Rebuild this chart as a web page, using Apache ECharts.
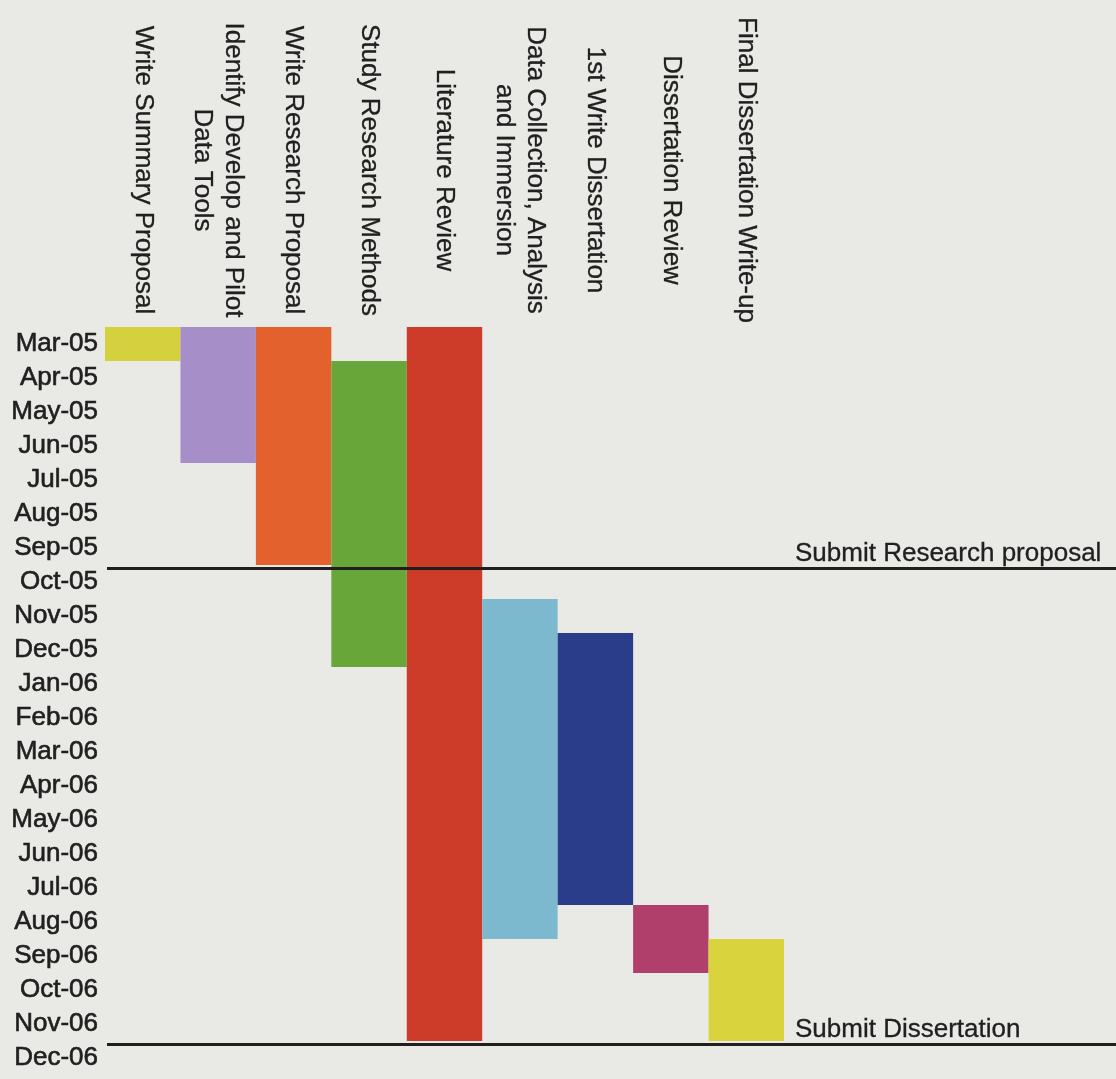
<!DOCTYPE html>
<html>
<head>
<meta charset="utf-8">
<style>
html, body { margin: 0; padding: 0; background: #e9e9e6; }
#chart { width: 1116px; height: 1079px; }
</style>
<script src="https://cdn.jsdelivr.net/npm/echarts@6/dist/echarts.min.js"></script>
</head>
<body>
<div id="chart"></div>
<script>
// ---- data ----
const tasks = [
  'Write Summary Proposal',
  'Identify Develop and Pilot\nData Tools',
  'Write Research Proposal',
  'Study Research Methods',
  'Literature Review',
  'Data Collection, Analysis\nand Immersion',
  '1st Write Dissertation',
  'Dissertation Review',
  'Final Dissertation Write-up'
];
const months = [
  'Mar-05','Apr-05','May-05','Jun-05','Jul-05','Aug-05','Sep-05','Oct-05','Nov-05','Dec-05',
  'Jan-06','Feb-06','Mar-06','Apr-06','May-06','Jun-06','Jul-06','Aug-06','Sep-06','Oct-06','Nov-06','Dec-06'
];
const startMonth = ['Mar-05','Mar-05','Mar-05','Apr-05','Mar-05','Nov-05','Dec-05','Aug-06','Sep-06'];
const endMonth   = ['Mar-05','Jun-05','Sep-05','Dec-05','Nov-06','Aug-06','Jul-06','Sep-06','Nov-06'];
const milestones = ['Submit Research proposal', 'Submit Dissertation'];
const milestoneAfter = ['Sep-05', 'Nov-06'];

// ---- styles ----
const colors = ['#d5d03e','#a68ec9','#e2612c','#69a63a','#cd3c29','#7db9ce','#293d8b','#b13f6c','#d9d43e'];
const FONT = '"Liberation Sans", Arial, sans-serif';
const TEXT = '#202020';

const barData = tasks.map((t, i) => [i, months.indexOf(startMonth[i]), months.indexOf(endMonth[i])]);
const lineData = milestones.map((m, k) => ({ name: m, yAxis: months.indexOf(milestoneAfter[k]) + 1 }));

const chart = echarts.init(document.getElementById('chart'));
chart.setOption({
  backgroundColor: '#e9e9e6',
  animation: false,
  textStyle: { fontFamily: FONT },
  grid: [
    { left: 105, top: 327, width: 679, height: 748 },
    { left: 107, top: 330, right: 0, height: 748 }
  ],
  xAxis: [
    {
      type: 'category', gridIndex: 0, position: 'top', data: tasks,
      axisLine: { show: false }, axisTick: { show: false }, splitLine: { show: false },
      axisLabel: {
        interval: 0, rotate: 90, margin: 157, align: 'center', verticalAlign: 'middle',
        fontSize: 26, lineHeight: 31, color: TEXT, fontFamily: FONT, hideOverlap: false,
        textBorderColor: TEXT, textBorderWidth: 0.3
      }
    },
    { type: 'value', gridIndex: 1, min: 0, max: 1, show: false }
  ],
  yAxis: [
    {
      type: 'category', gridIndex: 0, inverse: true, data: months,
      axisLine: { show: false }, axisTick: { show: false }, splitLine: { show: false },
      axisLabel: {
        interval: 0, margin: 7, fontSize: 26, color: TEXT, fontFamily: FONT,
        textBorderColor: TEXT, textBorderWidth: 0.6
      }
    },
    { type: 'value', gridIndex: 1, min: 0, max: 22, inverse: true, show: false }
  ],
  series: [
    {
      type: 'custom', xAxisIndex: 0, yAxisIndex: 0,
      data: barData,
      encode: { x: 0, y: [1, 2] },
      renderItem: function (params, api) {
        const i = api.value(0), s = api.value(1), e = api.value(2);
        const size = api.size([1, 1]);
        const p0 = api.coord([i, s]);
        const p1 = api.coord([i, e]);
        return {
          type: 'rect',
          shape: { x: p0[0] - size[0] / 2, y: p0[1] - size[1] / 2, width: size[0], height: p1[1] - p0[1] + size[1] },
          style: { fill: colors[i] }
        };
      }
    },
    {
      type: 'line', xAxisIndex: 1, yAxisIndex: 1, data: [],
      markLine: {
        silent: true, symbol: 'none', animation: false,
        lineStyle: { color: '#1f1f1f', width: 3, type: 'solid' },
        label: {
          show: true, formatter: '{b}', position: 'insideStartTop', distance: [688, 1],
          fontSize: 26, color: TEXT, fontFamily: FONT,
          textBorderColor: TEXT, textBorderWidth: 0.3
        },
        data: lineData
      }
    }
  ]
});
</script>
</body>
</html>
